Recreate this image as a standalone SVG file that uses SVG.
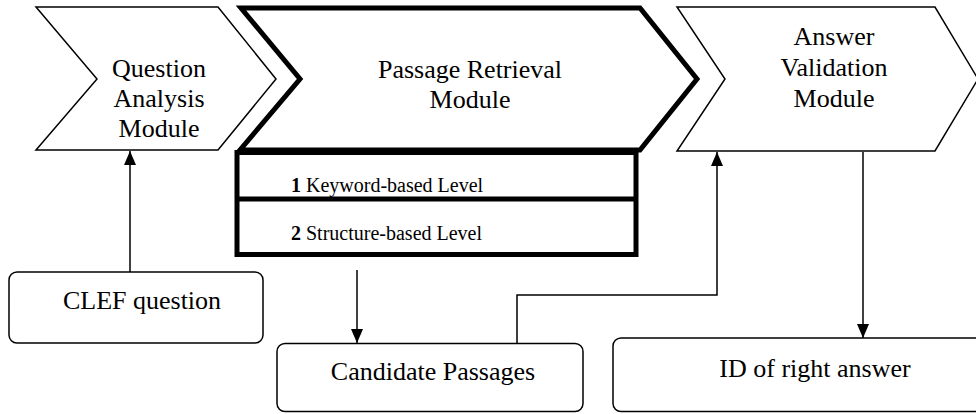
<svg xmlns="http://www.w3.org/2000/svg" width="976" height="414" viewBox="0 0 976 414">
<defs>
<marker id="arr" markerUnits="userSpaceOnUse" markerWidth="14" markerHeight="12" refX="14" refY="6" orient="auto">
<path d="M0,0 L14,6 L0,12 z" fill="#000"/>
</marker>
<style>
.thin{fill:#fff;stroke:#000;stroke-width:1.5;stroke-linejoin:miter}
.thick{fill:#fff;stroke:#000;stroke-width:5;stroke-linejoin:miter}
.box{fill:#fff;stroke:#000;stroke-width:1.5}
.big{font-family:"Liberation Serif","Times New Roman",serif;font-size:26px;fill:#000;text-anchor:middle}
.small{font-family:"Liberation Serif","Times New Roman",serif;font-size:20px;fill:#000}
.conn{fill:none;stroke:#000;stroke-width:1.5}
</style>
</defs>
<rect width="976" height="414" fill="#fff"/>
<g id="question-analysis">
<polygon class="thin" points="36,7 218,7 276,79 218,150 36,150 97,79"/>
<text class="big" x="159" y="77">Question</text>
<text class="big" x="159" y="107">Analysis</text>
<text class="big" x="159" y="137">Module</text>
</g>
<g id="answer-validation">
<polygon class="thin" points="677,7 935,7 978,79 935,151 677,151 725,79"/>
<text class="big" x="834" y="45">Answer</text>
<text class="big" x="834" y="76">Validation</text>
<text class="big" x="834" y="107">Module</text>
</g>
<g id="passage-retrieval">
<polygon class="thick" points="241,8 640,8 697,79 640,150 240,150 300,79"/>
<text class="big" x="470" y="78">Passage Retrieval</text>
<text class="big" x="470" y="108">Module</text>
</g>
<g id="levels">
<rect class="thick" x="237" y="152.5" width="399" height="102"/>
<line x1="237" y1="199" x2="636" y2="199" stroke="#000" stroke-width="5"/>
<text class="small" x="291" y="191.5"><tspan font-weight="bold">1</tspan> Keyword-based Level</text>
<text class="small" x="291" y="240"><tspan font-weight="bold">2</tspan> Structure-based Level</text>
</g>
<g id="clef-question">
<rect class="box" x="9" y="272" width="254" height="71" rx="8"/>
<text class="big" x="142" y="309">CLEF question</text>
</g>
<g id="candidate-passages">
<rect class="box" x="277" y="343.5" width="306" height="68" rx="8"/>
<text class="big" x="433" y="380">Candidate Passages</text>
</g>
<g id="right-answer">
<rect class="box" x="613" y="338" width="380" height="73.5" rx="8"/>
<text class="big" x="815" y="377">ID of right answer</text>
</g>
<g id="connectors">
<line class="conn" x1="130" y1="272" x2="130" y2="151" marker-end="url(#arr)"/>
<line class="conn" x1="357" y1="270" x2="357" y2="343" marker-end="url(#arr)"/>
<polyline class="conn" points="517,343 517,295 717,295 717,152" marker-end="url(#arr)"/>
<line class="conn" x1="863" y1="152" x2="863" y2="338" marker-end="url(#arr)"/>
</g>
</svg>
